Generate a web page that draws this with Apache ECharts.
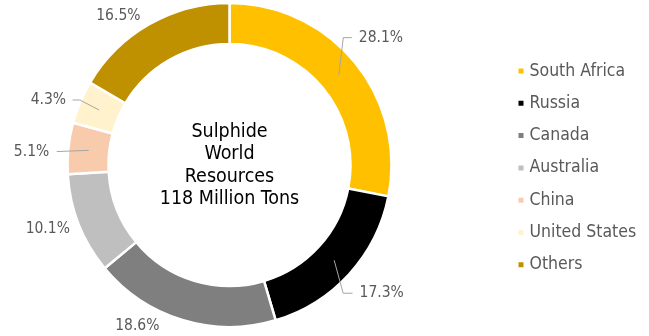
<!DOCTYPE html>
<html>
<head>
<meta charset="utf-8">
<script src="https://cdn.jsdelivr.net/npm/echarts@6/dist/echarts.min.js"></script>
<style>
  html, body { margin: 0; padding: 0; background: #ffffff; }
  #chart { width: 649px; height: 336px; }
</style>
</head>
<body>
<div id="chart"></div>
<script>
// Sulphide world resources by country (share of 118 Mt)
const countries = ['South Africa', 'Russia', 'Canada', 'Australia', 'China', 'United States', 'Others'];
const shares = [28.1, 17.3, 18.6, 10.1, 5.1, 4.3, 16.5];
const colors = ['#FFC000', '#000000', '#7F7F7F', '#BFBFBF', '#F8CBAD', '#FFF2CC', '#BF9000'];
const centerLines = ['Sulphide', 'World', 'Resources', '118 Million Tons'];

const FONT = '"DejaVu Sans Condensed", "DejaVu Sans", sans-serif';
const CX = 229.5, CY = 165, R_IN = 121, R_OUT = 162;
const R_MID = (R_IN + R_OUT) / 2;

// where each value label sits, relative to the middle of its ring segment
const labelPlacement = [
  { elbow: [4.5, -37.5], tail: 8.5, gap: 7, dir: 1 },
  { elbow: [9, 33], tail: 9.4, gap: 7, dir: 1 },
  { text: [-51, 25.5] },
  { text: [-50, 12] },
  { elbow: [-32, 1.2], tail: 0, gap: 7.5, dir: -1 },
  { elbow: [-19.2, -10], tail: 7.3, gap: 6.5, dir: -1 },
  { text: [-41, -26] }
];

// mid-ring point of every slice (clockwise from 12 o'clock)
const total = shares.reduce((s, v) => s + v, 0);
const anchors = [];
let acc = 0;
shares.forEach(v => {
  const theta = (acc + v / 2) / total * Math.PI * 2;
  anchors.push([CX + R_MID * Math.sin(theta), CY - R_MID * Math.cos(theta)]);
  acc += v;
});

// leader line geometry shared by the labels and the drawn lines
function leader(i) {
  const a = anchors[i];
  const pl = labelPlacement[i];
  const elbow = [a[0] + pl.elbow[0], a[1] + pl.elbow[1]];
  const end = [elbow[0] + pl.dir * pl.tail, elbow[1]];
  return { points: [a, elbow, end], textX: end[0] + pl.dir * pl.gap, textY: end[1], dir: pl.dir };
}

// leader lines sit above the ring, starting inside the segment
const leaderLines = [];
labelPlacement.forEach((pl, i) => {
  if (pl.text) return;
  leaderLines.push({
    type: 'polyline',
    z: 100,
    silent: true,
    shape: { points: leader(i).points },
    style: { stroke: '#A6A6A6', lineWidth: 1, fill: null }
  });
});

const chart = echarts.init(document.getElementById('chart'), null, { renderer: 'canvas' });

chart.setOption({
  backgroundColor: '#ffffff',
  animation: false,
  color: colors,
  legend: {
    orient: 'vertical',
    left: 516.5,
    top: 61,
    padding: 0,
    itemWidth: 7,
    itemHeight: 7,
    itemGap: 12.3,
    icon: 'rect',
    data: countries,
    textStyle: { fontFamily: FONT, fontSize: 17.5, color: '#595959', lineHeight: 20 }
  },
  graphic: [{
    type: 'text',
    x: CX,
    y: CY + 0.5,
    z: 100,
    style: {
      text: centerLines.join('\n'),
      fontFamily: FONT,
      fontSize: 19.5,
      lineHeight: 22.3,
      fill: '#000000',
      align: 'center',
      verticalAlign: 'middle'
    }
  }].concat(leaderLines),
  series: [{
    type: 'pie',
    center: [CX, CY],
    radius: [R_IN, R_OUT],
    startAngle: 90,
    clockwise: true,
    avoidLabelOverlap: false,
    itemStyle: { borderColor: '#ffffff', borderWidth: 2.5 },
    label: {
      show: true,
      position: 'outside',
      formatter: p => p.value.toFixed(1) + '%',
      fontFamily: FONT,
      fontSize: 15.5,
      color: '#595959'
    },
    labelLine: { show: false },
    emphasis: { disabled: true },
    labelLayout: function (p) {
      const i = p.dataIndex;
      const pl = labelPlacement[i];
      if (pl.text) {
        const a = anchors[i];
        return { x: a[0] + pl.text[0], y: a[1] + pl.text[1], align: 'center', verticalAlign: 'middle' };
      }
      const l = leader(i);
      return { x: l.textX, y: l.textY, align: l.dir > 0 ? 'left' : 'right', verticalAlign: 'middle' };
    },
    data: countries.map((name, i) => ({ name: name, value: shares[i] }))
  }]
});
</script>
</body>
</html>
